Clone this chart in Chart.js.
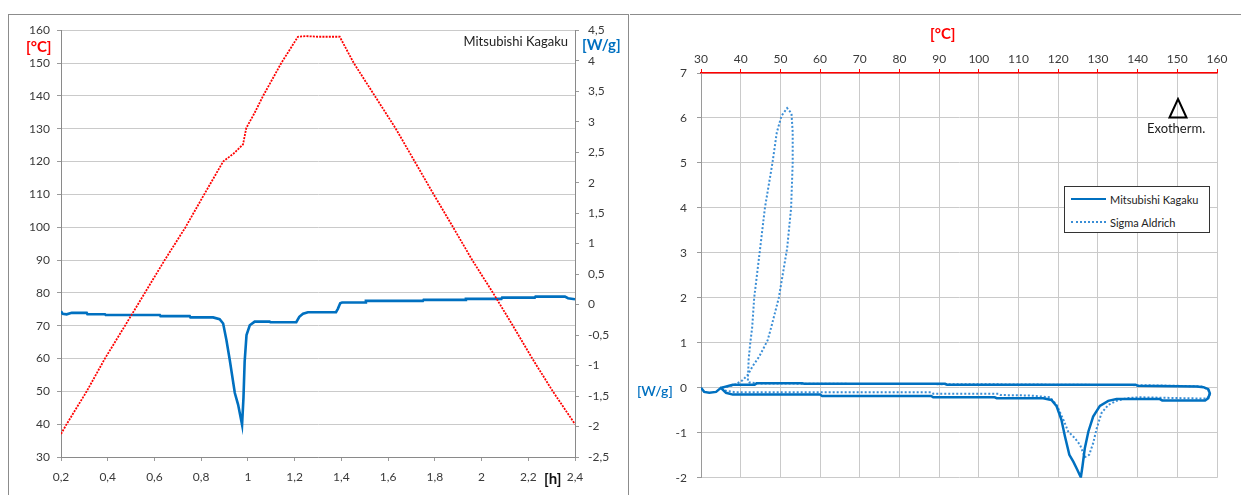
<!DOCTYPE html>
<html><head><meta charset="utf-8">
<script src="https://cdn.jsdelivr.net/npm/chart.js@4.4.1/dist/chart.umd.min.js"></script>
<style>
html,body{margin:0;padding:0;background:#fff}
body{width:1241px;height:495px;overflow:hidden;position:relative;font-family:Lato,"Open Sans",sans-serif}
#leftBox{position:absolute;left:8px;top:14px;width:621px;height:500px;border:1px solid #8c8c8c;box-sizing:border-box}
#rightTop{position:absolute;left:630px;top:14px;width:611px;height:0;border-top:1px solid #8c8c8c}
.wrap{position:absolute}
.t{position:absolute;white-space:nowrap;line-height:1}
#legend{position:absolute;left:1064px;top:186px;width:146px;height:47px;border:1px solid #333;box-sizing:border-box;background:#fff;font-size:11px;color:#222}
.li{position:absolute;left:6px;height:14px}
.li span.s{position:absolute;left:0;top:6px;width:35px;height:0}
.li span.l{position:absolute;left:39px;top:1px;white-space:nowrap}
</style></head>
<body>
<div id="leftBox"></div>
<div id="rightTop"></div>
<div class="wrap" style="left:8px;top:14px;width:620px;height:481px"><canvas id="c1" width="620" height="481"></canvas></div>
<div class="wrap" style="left:630px;top:14px;width:611px;height:481px"><canvas id="c2" width="611" height="481"></canvas></div>

<div class="t" style="left:26px;top:39px;font-size:15px;font-weight:bold;color:#ff0000">[°C]</div>
<div class="t" style="left:582px;top:37px;font-size:15px;font-weight:bold;color:#0070c0">[W/g]</div>
<div class="t" style="left:544px;top:471px;font-size:15px;font-weight:bold;color:#111">[h]</div>
<div class="t" id="leftName" style="right:673px;top:35px;font-size:13px;color:#222"></div>
<div class="t" style="left:930px;top:26px;font-size:15px;font-weight:bold;color:#ff0000">[°C]</div>
<div class="t" style="left:637px;top:384px;font-size:14px;font-weight:600;color:#0070c0">[W/g]</div>
<svg style="position:absolute;left:1167px;top:97px" width="22" height="23"><polygon points="11,2 19.5,20.5 2.5,20.5" fill="none" stroke="#000" stroke-width="2"/></svg>
<div class="t" style="left:1147px;top:122px;font-size:13px;color:#1a1a1a">Exotherm.</div>
<div id="legend"></div>

<script>
// ---------- data: left chart (time in h) ----------
const tempTime = [0.2, 0.224, 0.31, 0.388, 0.474, 0.559, 0.644, 0.733, 0.813, 0.894, 0.94, 0.979, 0.993, 1.03, 1.065, 1.143, 1.214, 1.25, 1.3, 1.393, 1.453, 1.543, 1.633, 1.714, 1.795, 1.878, 1.96, 2.049, 2.134, 2.217, 2.305, 2.4];
const tempVal  = [37, 40, 50, 60, 70, 80, 90, 100, 110, 120, 122.5, 125.2, 130.2, 135, 140, 150, 158, 158.2, 158, 158, 150, 140, 130, 120, 110, 100, 90, 80, 70, 60, 50, 40];
const flowTime = [0.2, 0.207, 0.224, 0.246, 0.31, 0.313, 0.388, 0.391, 0.623, 0.626, 0.751, 0.754, 0.851, 0.879, 0.894, 0.908, 0.922, 0.944, 0.958, 0.975, 0.981, 0.986, 0.994, 1.008, 1.029, 1.093, 1.096, 1.207, 1.22, 1.236, 1.257, 1.377, 1.385, 1.395, 1.403, 1.502, 1.505, 1.749, 1.752, 1.93, 1.933, 2.085, 2.088, 2.228, 2.231, 2.357, 2.37, 2.4];
const flowVal  = [-0.11, -0.15, -0.16, -0.136, -0.136, -0.158, -0.158, -0.17, -0.17, -0.19, -0.19, -0.21, -0.21, -0.24, -0.31, -0.58, -0.9, -1.45, -1.64, -1.97, -1.53, -0.94, -0.5, -0.34, -0.28, -0.28, -0.29, -0.29, -0.2, -0.15, -0.125, -0.124, -0.07, 0.02, 0.033, 0.033, 0.06, 0.06, 0.077, 0.077, 0.093, 0.093, 0.114, 0.114, 0.13, 0.13, 0.104, 0.088];
const leftSample = "Mitsubishi Kagaku";

// ---------- data: right chart (temperature in °C vs W/g) ----------
const seriesNames = ["Mitsubishi Kagaku", "Sigma Aldrich"];
const mkTemp = [30, 30.8, 32.1, 33.8, 35, 36.3, 38, 60, 60.5, 88, 88.5, 104, 104.5, 112.9, 116.2, 118.3, 119.6, 120.8, 121.7, 122.8, 123.8, 124.8, 125.7, 126.1, 126.7, 127.6, 128.8, 130.5, 132.6, 134.7, 145.6, 146.2, 157, 157.8, 158.2, 157.8, 156.6, 154.9, 140, 139.5, 92, 91.5, 56, 55.5, 44, 43.5, 38, 35];
const mkFlow = [0, -0.09, -0.11, -0.09, 0, -0.11, -0.15, -0.15, -0.18, -0.18, -0.21, -0.21, -0.23, -0.23, -0.23, -0.27, -0.41, -0.71, -1.08, -1.49, -1.64, -1.82, -1.99, -1.75, -1.34, -0.97, -0.64, -0.4, -0.29, -0.25, -0.25, -0.28, -0.28, -0.23, -0.12, -0.03, 0.015, 0.03, 0.045, 0.07, 0.07, 0.09, 0.09, 0.1, 0.1, 0.07, 0.07, 0];
const saTemp = [36, 38.8, 88, 88.5, 105, 105.5, 112.9, 117.9, 119.6, 121.3, 122.5, 124.2, 125.5, 126.7, 127.8, 128.8, 129.7, 130.9, 132.6, 134.7, 137.2, 140.6, 157.4, 158.2, 157.8, 156.1, 150, 140, 100, 60, 44, 42.2, 41.8, 42.0, 42.4, 42.9, 43.4, 44.9, 46.1, 48, 49.1, 50.3, 51.7, 52.8, 53.1, 53.1, 52.7, 51.7, 49.6, 47.7, 46.8, 44.7, 43, 41.8, 40.5, 38.8, 37, 35];
const saFlow = [-0.06, -0.1, -0.1, -0.13, -0.13, -0.16, -0.17, -0.21, -0.38, -0.71, -0.97, -1.12, -1.27, -1.54, -1.49, -1.23, -0.9, -0.56, -0.38, -0.29, -0.23, -0.21, -0.24, -0.16, -0.04, 0.03, 0.045, 0.06, 0.08, 0.09, 0.1, 0.12, 0.15, 0.62, 0.99, 1.35, 2, 3.1, 4, 5, 5.68, 6.05, 6.22, 6.1, 5.68, 5, 4, 3.1, 2, 1.35, 1.06, 0.7, 0.48, 0.29, 0.17, 0.08, 0.03, 0];

// axis ranges / ticks
const timeAxis = {min: 0.2, max: 2.4, step: 0.2};
const tempAxis = {min: 30, max: 160, step: 10};
const flowAxisL = {min: -2.5, max: 4.5, step: 0.5};
const tempAxisR = {min: 30, max: 160, step: 10};
const flowAxisR = {min: -2, max: 7, step: 1};

const colRed = '#ff0000', colBlue = '#0070c0', colBlueDot = '#3a8ed6';
const fmt = v => String(Math.round(v * 10) / 10).replace('.', ',');
const pts = (xs, ys) => xs.map((x, i) => ({x: x, y: ys[i]}));
const tickFont = {family: 'Lato', size: 12};
const tickCol = '#3a3a3a';

document.getElementById('leftName').textContent = leftSample;

new Chart(document.getElementById('c1'), {
  type: 'scatter',
  data: {datasets: [
    {label: 'Temperatur', data: pts(tempTime, tempVal), yAxisID: 'y', showLine: true, borderColor: colRed, borderWidth: 1.8, borderDash: [2, 1.2], pointRadius: 0, tension: 0},
    {label: leftSample, data: pts(flowTime, flowVal), yAxisID: 'y1', showLine: true, borderColor: colBlue, borderWidth: 2.6, pointRadius: 0, tension: 0}
  ]},
  options: {
    responsive: false, animation: false, events: [],
    layout: {padding: {top: 14, left: 0, right: 0, bottom: 0}},
    plugins: {legend: {display: false}, tooltip: {enabled: false}},
    scales: {
      x: {type: 'linear', position: 'bottom', min: timeAxis.min, max: timeAxis.max,
          ticks: {stepSize: timeAxis.step, callback: fmt, color: tickCol, font: tickFont, padding: 9, maxRotation: 0},
          grid: {drawOnChartArea: false, tickLength: 4, color: '#9a9a9a'},
          border: {color: '#8a8a8a'},
          afterFit: s => { s.height = 38; }},
      y: {position: 'left', min: tempAxis.min, max: tempAxis.max,
          ticks: {stepSize: tempAxis.step, color: tickCol, font: tickFont, padding: 7},
          grid: {color: '#cacaca', tickLength: 4, tickColor: '#9a9a9a'},
          border: {color: '#8a8a8a'},
          afterFit: s => { s.width = 53; }},
      y1: {position: 'right', min: flowAxisL.min, max: flowAxisL.max,
          ticks: {stepSize: flowAxisL.step, callback: fmt, color: tickCol, font: tickFont, padding: 9},
          grid: {drawOnChartArea: false, tickLength: 4, color: '#9a9a9a'},
          border: {color: '#8a8a8a'},
          afterFit: s => { s.width = 53; }}
    }
  }
});

const rightSets = [
  {label: seriesNames[0], data: pts(mkTemp, mkFlow), showLine: true, borderColor: colBlue, borderWidth: 2.5, pointRadius: 0, tension: 0},
  {label: seriesNames[1], data: pts(saTemp, saFlow), showLine: true, borderColor: colBlueDot, borderWidth: 2, borderDash: [2, 2], pointRadius: 0, tension: 0}
];

new Chart(document.getElementById('c2'), {
  type: 'scatter',
  data: {datasets: rightSets},
  options: {
    responsive: false, animation: false, events: [],
    layout: {padding: {top: 0, left: 0, right: 24, bottom: 13}},
    plugins: {legend: {display: false}, tooltip: {enabled: false}},
    scales: {
      x: {type: 'linear', position: 'top', min: tempAxisR.min, max: tempAxisR.max,
          ticks: {stepSize: tempAxisR.step, color: tickCol, font: tickFont, padding: 3, maxRotation: 0},
          grid: {color: '#cacaca', tickLength: 4, tickColor: colRed},
          border: {color: colRed, width: 1.5},
          afterFit: s => { s.height = 59; }},
      y: {position: 'left', min: flowAxisR.min, max: flowAxisR.max,
          ticks: {stepSize: flowAxisR.step, color: tickCol, font: tickFont, padding: 10},
          grid: {color: '#cacaca', tickLength: 4, tickColor: '#9a9a9a'},
          border: {color: '#9a9a9a'},
          afterFit: s => { s.width = 71; }}
    }
  }
});

// legend built from the dataset definitions
const lg = document.getElementById('legend');
rightSets.forEach((d, i) => {
  const row = document.createElement('div');
  row.className = 'li';
  row.style.top = (5 + i * 23) + 'px';
  const s = document.createElement('span');
  s.className = 's';
  s.style.borderTop = d.borderDash ? '2px dotted ' + d.borderColor : '2.5px solid ' + d.borderColor;
  const l = document.createElement('span');
  l.className = 'l';
  l.textContent = d.label;
  row.appendChild(s); row.appendChild(l);
  lg.appendChild(row);
});
</script>
</body></html>
